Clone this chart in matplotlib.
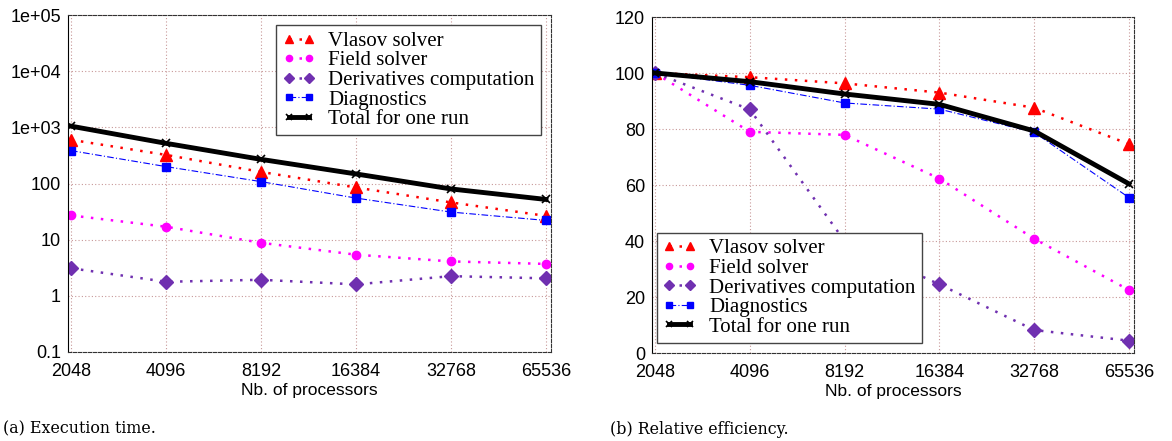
import numpy as np
import matplotlib
matplotlib.use("Agg")
import matplotlib.pyplot as plt
from matplotlib.ticker import FixedLocator, FixedFormatter, NullLocator

procs = [2048, 4096, 8192, 16384, 32768, 65536]
proc_labels = ["2048", "4096", "8192", "16384", "32768", "65536"]

# (a) execution time (s)
t_vlasov = [600, 323, 161, 85, 46, 26.5]
t_field = [27, 17, 8.8, 5.4, 4.1, 3.7]
t_deriv = [3.1, 1.78, 1.93, 1.6, 2.24, 2.05]
t_diag = [385, 200, 108, 55, 31, 22]
t_total = [1050, 519, 269, 148, 80, 52]

# (b) relative efficiency (%)
e_vlasov = [100, 98.5, 96.3, 93, 87.6, 74.6]
e_field = [100, 79, 77.9, 62.3, 40.8, 22.5]
e_deriv = [100, 87, 40, 24.5, 8.2, 4.4]
e_diag = [100, 95.6, 89.3, 87.1, 78.8, 55.5]
e_total = [100, 96.9, 92.5, 88.8, 79.3, 60.4]

names = ["Vlasov solver", "Field solver", "Derivatives computation",
         "Diagnostics", "Total for one run"]

styles = [
    dict(color="#ff0000", marker="^", ms=8, ls=(0, (1, 3)), lw=1.8),
    dict(color="#ff00ff", marker="o", ms=6, ls=(0, (1, 3)), lw=1.8),
    dict(color="#7030b0", marker="D", ms=7, ls=(0, (1, 3)), lw=1.8),
    dict(color="#0000ff", marker="s", ms=6, ls=(0, (6, 2, 1, 2)), lw=0.8),
    dict(color="#000000", marker="x", ms=6, ls="-", lw=3.5, mew=1.2),
]

fig = plt.figure(figsize=(11.72, 4.41), dpi=100)
ax1 = fig.add_axes([68 / 1172, 89 / 441, 483 / 1172, 337 / 441])
ax2 = fig.add_axes([652 / 1172, 88 / 441, 482 / 1172, 336 / 441])


def setup(ax, left_px, right_px):
    ax.set_xscale("log", base=2)
    ax.set_xlim(2048 * 2 ** (-left_px / 95), 65536 * 2 ** (right_px / 95))
    ax.xaxis.set_major_locator(FixedLocator(procs))
    ax.xaxis.set_major_formatter(FixedFormatter(proc_labels))
    ax.xaxis.set_minor_locator(NullLocator())
    ax.grid(True, which="major", color="#c89898", ls=(0, (1, 2)), lw=0.8)
    ax.tick_params(direction="in", length=0, labelsize=13)
    ax.tick_params(axis="x", pad=8)
    ax.tick_params(axis="y", pad=5)
    for lab in ax.get_xticklabels() + ax.get_yticklabels():
        lab.set_family("Liberation Sans")
    for s in ["top", "right", "bottom"]:
        ax.spines[s].set_linestyle((0, (3, 1.5)))
        ax.spines[s].set_color("#333333")
    ax.spines["left"].set_color("black")
    ax.set_xlabel("Nb. of processors", fontsize=12.5, family="Liberation Sans")
    ax.xaxis.set_label_coords(0.5, -0.093)


for ax, data in [(ax1, [t_vlasov, t_field, t_deriv, t_diag, t_total]),
                 (ax2, [e_vlasov, e_field, e_deriv, e_diag, e_total])]:
    for vals, name, st in zip(data, names, styles):
        ax.plot(procs, vals, label=name, **st)

ax1.set_yscale("log")
ax1.set_ylim(0.1, 1e5)
ylog = [0.1, 1, 10, 100, 1e3, 1e4, 1e5]
ax1.yaxis.set_major_locator(FixedLocator(ylog))
ax1.yaxis.set_major_formatter(FixedFormatter(["0.1", "1", "10", "100", "1e+03", "1e+04", "1e+05"]))
ax1.yaxis.set_minor_locator(NullLocator())
setup(ax1, 3, 5)

ax2.set_ylim(0, 120)
ax2.set_yticks([0, 20, 40, 60, 80, 100, 120])
setup(ax2, 3, 5)

leg_kw = dict(prop=dict(family="Liberation Serif", size=15), numpoints=2,
              markerscale=0.75, handlelength=1.6, handletextpad=0.6,
              labelspacing=0.0, borderpad=0.3, fancybox=False, framealpha=1,
              edgecolor="#444444", borderaxespad=0)
l1 = ax1.legend(loc="upper left", bbox_to_anchor=(208 / 483, 1 - 10 / 337), **leg_kw)
l2 = ax2.legend(loc="lower left", bbox_to_anchor=(5 / 482, 10 / 336), **leg_kw)
for l in (l1, l2):
    l.get_frame().set_linewidth(1.0)

fig.text(3 / 1172, 1 - 429 / 441, "(a) Execution time.", family="DejaVu Serif",
         fontsize=11.4, va="center", ha="left")
fig.text(610 / 1172, 1 - 429 / 441, "(b) Relative efficiency.", family="DejaVu Serif",
         fontsize=11.4, va="center", ha="left")

fig.savefig("out.png", dpi=100)
